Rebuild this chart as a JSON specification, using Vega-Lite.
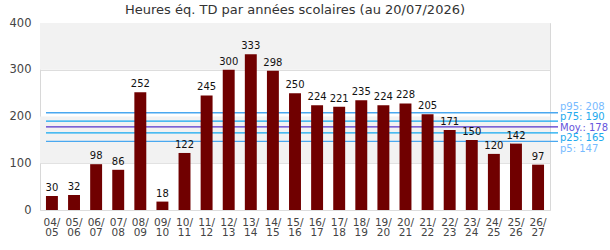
{
  "$schema": "https://vega.github.io/schema/vega-lite/v6.json",
  "width": 510,
  "height": 187,
  "autosize": {"type": "none"},
  "padding": {"left": 40, "top": 23, "right": 60, "bottom": 40},
  "title": {"text": "Heures éq. TD par années scolaires (au 20/07/2026)", "fontSize": 13, "font": "DejaVu Sans", "fontWeight": "normal", "color": "#333333", "offset": 0, "frame": "group", "anchor": "middle"},
  "config": {"view": {"stroke": "#d8d8d8"}, "font": "DejaVu Sans"},
  "datasets": {
    "years": [
      {"year": "04/05", "hours": 30}, {"year": "05/06", "hours": 32}, {"year": "06/07", "hours": 98},
      {"year": "07/08", "hours": 86}, {"year": "08/09", "hours": 252}, {"year": "09/10", "hours": 18},
      {"year": "10/11", "hours": 122}, {"year": "11/12", "hours": 245}, {"year": "12/13", "hours": 300},
      {"year": "13/14", "hours": 333}, {"year": "14/15", "hours": 298}, {"year": "15/16", "hours": 250},
      {"year": "16/17", "hours": 224}, {"year": "17/18", "hours": 221}, {"year": "18/19", "hours": 235},
      {"year": "19/20", "hours": 224}, {"year": "20/21", "hours": 228}, {"year": "21/22", "hours": 205},
      {"year": "22/23", "hours": 171}, {"year": "23/24", "hours": 150}, {"year": "24/25", "hours": 120},
      {"year": "25/26", "hours": 142}, {"year": "26/27", "hours": 97}
    ],
    "bands": [{"from": 100, "to": 200}, {"from": 300, "to": 400}],
    "stats": [
      {"name": "p95", "value": 208, "label": "p95: 208"},
      {"name": "p75", "value": 190, "label": "p75: 190"},
      {"name": "Moy.", "value": 178, "label": "Moy.: 178"},
      {"name": "p25", "value": 165, "label": "p25: 165"},
      {"name": "p5", "value": 147, "label": "p5: 147"}
    ]
  },
  "layer": [
    {
      "data": {"name": "bands"},
      "mark": {"type": "rect", "color": "#f2f2f2"},
      "encoding": {
        "y": {"field": "from", "type": "quantitative", "scale": {"domain": [0, 400]}},
        "y2": {"field": "to"}
      }
    },
    {
      "data": {"name": "stats"},
      "mark": {"type": "rule", "strokeWidth": 1.3, "xOffset": 6, "x2Offset": 8, "clip": false},
      "encoding": {
        "x": {"value": 0},
        "x2": {"value": "width"},
        "y": {"field": "value", "type": "quantitative"},
        "color": {"field": "name", "type": "nominal", "legend": null,
          "scale": {"domain": ["p95", "p75", "Moy.", "p25", "p5"], "range": ["#4aa8f0", "#12a8f0", "#5533cc", "#12a8f0", "#4aa8f0"]}}
      }
    },
    {
      "data": {"name": "years"},
      "mark": {"type": "bar", "color": "#700000"},
      "encoding": {
        "x": {"field": "year", "type": "nominal", "sort": null,
          "scale": {"paddingInner": 0.46, "paddingOuter": 0.27},
          "axis": {"title": null, "labelAngle": 0, "ticks": false, "domain": false, "labelPadding": 7,
            "labelExpr": "[slice(datum.label, 0, 3), slice(datum.label, 3)]",
            "labelLineHeight": 10.5, "labelFontSize": 10.5, "labelColor": "#444444", "labelFont": "DejaVu Sans"}},
        "y": {"field": "hours", "type": "quantitative",
          "axis": {"title": null, "values": [0, 100, 200, 300, 400], "grid": true, "gridColor": "#dddddd",
            "domain": false, "ticks": false, "labelPadding": 9, "labelFontSize": 11.5, "labelColor": "#444444", "labelFont": "DejaVu Sans"}}
      }
    },
    {
      "data": {"name": "years"},
      "mark": {"type": "text", "baseline": "bottom", "dy": -3, "fontSize": 10, "color": "#111111"},
      "encoding": {
        "x": {"field": "year", "type": "nominal", "sort": null},
        "y": {"field": "hours", "type": "quantitative"},
        "text": {"field": "hours", "type": "quantitative"}
      }
    },
    {
      "data": {"name": "stats"},
      "transform": [{"filter": "datum.name == 'p95'"}],
      "mark": {"type": "text", "align": "left", "baseline": "middle", "dx": 10, "dy": -6, "fontSize": 10, "color": "#77bbff"},
      "encoding": {"x": {"value": "width"}, "y": {"field": "value", "type": "quantitative"}, "text": {"field": "label"}}
    },
    {
      "data": {"name": "stats"},
      "transform": [{"filter": "datum.name == 'p75'"}],
      "mark": {"type": "text", "align": "left", "baseline": "middle", "dx": 10, "dy": -4.5, "fontSize": 10, "color": "#22aaee"},
      "encoding": {"x": {"value": "width"}, "y": {"field": "value", "type": "quantitative"}, "text": {"field": "label"}}
    },
    {
      "data": {"name": "stats"},
      "transform": [{"filter": "datum.name == 'Moy.'"}],
      "mark": {"type": "text", "align": "left", "baseline": "middle", "dx": 10, "dy": 1, "fontSize": 10, "color": "#6655dd"},
      "encoding": {"x": {"value": "width"}, "y": {"field": "value", "type": "quantitative"}, "text": {"field": "label"}}
    },
    {
      "data": {"name": "stats"},
      "transform": [{"filter": "datum.name == 'p25'"}],
      "mark": {"type": "text", "align": "left", "baseline": "middle", "dx": 10, "dy": 5.5, "fontSize": 10, "color": "#22aaee"},
      "encoding": {"x": {"value": "width"}, "y": {"field": "value", "type": "quantitative"}, "text": {"field": "label"}}
    },
    {
      "data": {"name": "stats"},
      "transform": [{"filter": "datum.name == 'p5'"}],
      "mark": {"type": "text", "align": "left", "baseline": "middle", "dx": 10, "dy": 7.5, "fontSize": 10, "color": "#77bbff"},
      "encoding": {"x": {"value": "width"}, "y": {"field": "value", "type": "quantitative"}, "text": {"field": "label"}}
    }
  ]
}
